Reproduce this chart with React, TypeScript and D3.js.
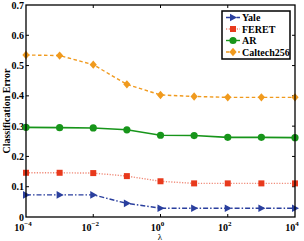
import { useEffect, useRef } from 'react'
import * as d3 from 'd3'

const LAMBDA_EXP = [-4, -3, -2, -1, 0, 1, 2, 3, 4]
const YALE = [0.073, 0.073, 0.073, 0.045, 0.029, 0.029, 0.029, 0.029, 0.029]
const FERET = [0.146, 0.146, 0.145, 0.135, 0.118, 0.111, 0.111, 0.111, 0.111]
const AR = [0.296, 0.295, 0.294, 0.288, 0.27, 0.269, 0.263, 0.263, 0.262]
const CALTECH = [0.535, 0.533, 0.503, 0.438, 0.403, 0.398, 0.395, 0.395, 0.395]
const Y_TICKS = [0, 0.1, 0.2, 0.3, 0.4, 0.5, 0.6, 0.7]
const X_LABEL_EXP = [-4, -2, 0, 2, 4]

const SERIES = [
  { name: 'Yale', values: YALE, color: '#2a3f9e', lineColor: '#2a3f9e', dash: '5,2,1.5,2', marker: 'tri' },
  { name: 'FERET', values: FERET, color: '#e8391c', lineColor: '#f08a78', dash: '1.2,1.5', marker: 'sq' },
  { name: 'AR', values: AR, color: '#17951a', lineColor: '#17951a', dash: null, marker: 'circ' },
  { name: 'Caltech256', values: CALTECH, color: '#f09a1e', lineColor: '#f09a1e', dash: '3.5,2.5', marker: 'dia' },
]

const FONT = '"Liberation Serif", "Times New Roman", serif'

function drawMarker(g: any, type: string, x: number, y: number, color: string) {
  if (type === 'circ') {
    g.append('circle').attr('cx', x).attr('cy', y).attr('r', 3.6).attr('fill', color)
  } else if (type === 'sq') {
    g.append('rect').attr('x', x - 3).attr('y', y - 3).attr('width', 6).attr('height', 6).attr('fill', color)
  } else if (type === 'dia') {
    g.append('path').attr('d', `M${x},${y - 4.2}L${x + 3.6},${y}L${x},${y + 4.2}L${x - 3.6},${y}Z`).attr('fill', color)
  } else {
    g.append('path').attr('d', `M${x + 4},${y}L${x - 3},${y - 3.8}L${x - 3},${y + 3.8}Z`).attr('fill', color)
  }
}

export default function App() {
  const ref = useRef<SVGSVGElement>(null)

  useEffect(() => {
    const svg = d3.select(ref.current)
    svg.selectAll('*').remove()
    const left = 26, right = 295, top = 5, bottom = 217
    const x = d3.scaleLinear().domain([-4, 4]).range([left, right])
    const y = d3.scaleLinear().domain([0, 0.7]).range([bottom, top])

    svg.append('rect').attr('width', 304).attr('height', 241).attr('fill', '#fff')

    const g = svg.append('g')

    // ticks (inward, mirrored)
    Y_TICKS.forEach((t) => {
      if (t === 0 || t === 0.7) return
      g.append('line').attr('x1', left).attr('x2', left + 3).attr('y1', y(t)).attr('y2', y(t)).attr('stroke', '#000')
      g.append('line').attr('x1', right).attr('x2', right - 3).attr('y1', y(t)).attr('y2', y(t)).attr('stroke', '#000')
    })
    X_LABEL_EXP.forEach((e) => {
      if (e === -4 || e === 4) return
      g.append('line').attr('x1', x(e)).attr('x2', x(e)).attr('y1', bottom).attr('y2', bottom - 3).attr('stroke', '#000')
      g.append('line').attr('x1', x(e)).attr('x2', x(e)).attr('y1', top).attr('y2', top + 3).attr('stroke', '#000')
    })

    // y tick labels
    Y_TICKS.forEach((t) => {
      g.append('text')
        .attr('x', left - 2)
        .attr('y', y(t) + 3.5)
        .attr('text-anchor', 'end')
        .attr('font-family', FONT)
        .attr('font-weight', 'bold')
        .attr('font-size', 10)
        .text(t === 0 ? '0' : t.toFixed(1))
    })

    // x tick labels
    X_LABEL_EXP.forEach((e) => {
      const t = g.append('text')
        .attr('x', x(e) - 3)
        .attr('y', 231)
        .attr('text-anchor', 'middle')
        .attr('font-family', FONT)
        .attr('font-weight', 'bold')
        .attr('font-size', 10)
      t.append('tspan').text('10')
      t.append('tspan').attr('dy', -5).attr('font-size', 7).text(e < 0 ? `\u2212${-e}` : `${e}`)
    })

    // axis labels
    g.append('text')
      .attr('x', 160)
      .attr('y', 240)
      .attr('text-anchor', 'middle')
      .attr('font-family', FONT)
      .attr('font-size', 9)
      .text('\u03bb')
    g.append('text')
      .attr('transform', `translate(10,${(top + bottom) / 2}) rotate(-90)`)
      .attr('text-anchor', 'middle')
      .attr('font-family', FONT)
      .attr('font-weight', 'bold')
      .attr('font-size', 10)
      .text('Classification Error')

    // series
    SERIES.forEach((s) => {
      const line = d3.line<number>().x((_, i) => x(LAMBDA_EXP[i])).y((d) => y(d))
      g.append('path')
        .attr('d', line(s.values))
        .attr('fill', 'none')
        .attr('stroke', s.lineColor)
        .attr('stroke-width', s.marker === 'circ' ? 1.6 : 1.4)
        .attr('stroke-dasharray', s.dash)
      s.values.forEach((v, i) => drawMarker(g, s.marker, x(LAMBDA_EXP[i]), y(v), s.color))
    })

    // frame
    g.append('rect')
      .attr('x', left).attr('y', top).attr('width', right - left).attr('height', bottom - top)
      .attr('fill', 'none').attr('stroke', '#000').attr('stroke-width', 1.3)

    // legend
    const lg = g.append('g')
    lg.append('rect').attr('x', 222).attr('y', 11).attr('width', 68).attr('height', 48)
      .attr('fill', '#fff').attr('stroke', '#000').attr('stroke-width', 1.5)
    SERIES.forEach((s, i) => {
      const ly = 17.5 + i * 11.5
      lg.append('line').attr('x1', 226).attr('x2', 240).attr('y1', ly).attr('y2', ly)
        .attr('stroke', s.lineColor).attr('stroke-width', 1.4).attr('stroke-dasharray', s.dash)
      drawMarker(lg, s.marker, 233, ly, s.color)
      lg.append('text').attr('x', 242).attr('y', ly + 3.5)
        .attr('font-family', FONT).attr('font-weight', 'bold').attr('font-size', 10)
        .text(s.name)
    })
  }, [])

  return (
    <svg ref={ref} width={304} height={241} style={{ position: 'absolute', left: 0, top: 0 }} />
  )
}
